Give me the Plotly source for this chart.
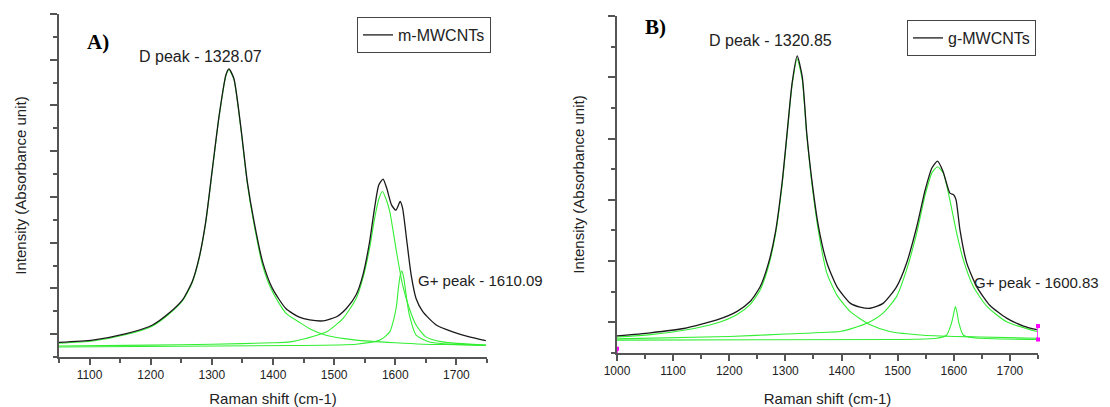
import plotly.graph_objects as go

# ---- panel A: m-MWCNTs (Raman shift, intensity a.u.) ----
a_tot_x = [1050, 1105, 1160, 1203, 1230, 1252, 1268, 1279, 1290, 1301, 1312, 1323, 1328, 1336, 1347,
           1358, 1369, 1383, 1399, 1421, 1443, 1460, 1482, 1504, 1520, 1536, 1547, 1558, 1566, 1573,
           1580, 1586, 1594, 1601, 1608, 1612, 1619, 1626, 1634, 1645, 1667, 1694, 1721, 1748]
a_tot_y = [0.32, 0.37, 0.51, 0.70, 0.96, 1.25, 1.65, 2.16, 2.96, 4.13, 5.29, 6.17, 6.30, 6.09, 5.07,
           3.83, 2.96, 2.08, 1.50, 1.06, 0.87, 0.81, 0.79, 0.88, 1.06, 1.36, 1.79, 2.52, 3.25, 3.76,
           3.89, 3.69, 3.32, 3.21, 3.40, 3.25, 2.52, 1.79, 1.28, 0.99, 0.70, 0.55, 0.44, 0.36]

a_d_x = [1050, 1105, 1160, 1203, 1230, 1252, 1268, 1279, 1290, 1301, 1312, 1323, 1328, 1336, 1347,
         1358, 1369, 1383, 1399, 1421, 1443, 1460, 1488, 1536, 1600, 1645, 1700, 1748]
a_d_y = [0.30, 0.35, 0.49, 0.68, 0.94, 1.23, 1.63, 2.14, 2.94, 4.11, 5.27, 6.15, 6.28, 6.07, 5.04,
         3.79, 2.90, 2.00, 1.43, 0.96, 0.76, 0.62, 0.47, 0.37, 0.31, 0.28, 0.27, 0.26]

a_g_x = [1050, 1200, 1300, 1400, 1428, 1455, 1488, 1515, 1536, 1547, 1558, 1566, 1573, 1579, 1585,
         1591, 1602, 1612, 1623, 1634, 1650, 1677, 1748]
a_g_y = [0.24, 0.26, 0.28, 0.31, 0.33, 0.41, 0.55, 0.85, 1.28, 1.72, 2.38, 3.02, 3.45, 3.62, 3.45,
         3.18, 2.30, 1.57, 1.06, 0.70, 0.44, 0.33, 0.26]

a_gp_x = [1050, 1428, 1536, 1575, 1591, 1598, 1602, 1605, 1608, 1611, 1614, 1617, 1620, 1623, 1634, 1656, 1748]
a_gp_y = [0.22, 0.25, 0.28, 0.37, 0.55, 0.85, 1.12, 1.50, 1.78, 1.88, 1.72, 1.43, 1.15, 0.92, 0.48, 0.33, 0.25]

# ---- panel B: g-MWCNTs ----
b_tot_x = [1000, 1059, 1119, 1178, 1214, 1237, 1255, 1270, 1282, 1294, 1303, 1312, 1321, 1330, 1338,
           1347, 1359, 1374, 1392, 1416, 1433, 1451, 1474, 1498, 1516, 1534, 1549, 1561, 1571, 1581,
           1593, 1600, 1604, 1611, 1623, 1641, 1664, 1694, 1724, 1748]
b_tot_y = [0.28, 0.33, 0.40, 0.54, 0.68, 0.84, 1.08, 1.47, 1.96, 2.77, 3.59, 4.41, 4.85, 4.51, 3.59,
           2.83, 2.06, 1.47, 1.08, 0.81, 0.75, 0.73, 0.81, 1.08, 1.47, 2.06, 2.66, 3.02, 3.13, 2.96,
           2.61, 2.58, 2.50, 2.01, 1.47, 1.08, 0.78, 0.57, 0.44, 0.38]

b_d_x = [1000, 1059, 1119, 1178, 1214, 1237, 1255, 1270, 1282, 1294, 1303, 1312, 1321, 1330, 1338,
         1347, 1359, 1374, 1392, 1416, 1433, 1451, 1486, 1546, 1650, 1748]
b_d_y = [0.26, 0.30, 0.37, 0.49, 0.63, 0.79, 1.03, 1.42, 1.92, 2.73, 3.56, 4.38, 4.80, 4.46, 3.55,
         2.78, 1.98, 1.30, 0.94, 0.67, 0.56, 0.46, 0.35, 0.29, 0.26, 0.24]

b_g_x = [1000, 1200, 1300, 1397, 1415, 1451, 1474, 1498, 1516, 1534, 1549, 1561, 1571, 1581, 1593,
         1605, 1617, 1635, 1659, 1694, 1748]
b_g_y = [0.23, 0.27, 0.31, 0.35, 0.39, 0.51, 0.65, 0.92, 1.36, 1.96, 2.58, 2.94, 3.04, 2.94, 2.50,
         1.96, 1.52, 1.08, 0.76, 0.51, 0.35]

b_gp_x = [1000, 1500, 1569, 1587, 1596, 1600, 1603, 1606, 1609, 1617, 1635, 1748]
b_gp_y = [0.21, 0.22, 0.24, 0.29, 0.49, 0.65, 0.76, 0.65, 0.49, 0.29, 0.25, 0.22]

# data-reader marks left by the original software (magenta)
b_mark_x = [[1000, 1000], [1750, 1750]]
b_mark_y = [[0.07, -0.10], [0.44, 0.22]]

BLACK = '#1a1a1a'
GREEN = '#33ee33'
AXC = '#555555'
FONT = 'Liberation Sans, Arial, sans-serif'

fig = go.Figure()


def add_panel(xa, ya, tot_x, tot_y, comps, name, legend):
    for cx, cy in comps:
        fig.add_trace(go.Scatter(x=cx, y=cy, mode='lines', xaxis=xa, yaxis=ya,
                                 line=dict(color=GREEN, width=1.1, shape='spline', smoothing=0.6),
                                 showlegend=False, hoverinfo='skip'))
    fig.add_trace(go.Scatter(x=tot_x, y=tot_y, mode='lines', xaxis=xa, yaxis=ya, name=name,
                             legend=legend, line=dict(color=BLACK, width=1.3, shape='spline', smoothing=0.6)))


add_panel('x', 'y', a_tot_x, a_tot_y, [(a_d_x, a_d_y), (a_g_x, a_g_y), (a_gp_x, a_gp_y)], 'm-MWCNTs', 'legend')
add_panel('x2', 'y2', b_tot_x, b_tot_y, [(b_d_x, b_d_y), (b_g_x, b_g_y), (b_gp_x, b_gp_y)], 'g-MWCNTs', 'legend2')

for mx, my in zip(b_mark_x, b_mark_y):
    fig.add_trace(go.Scatter(x=mx, y=my, mode='lines+markers', xaxis='x2', yaxis='y2', cliponaxis=False,
                             line=dict(color='#ff00ff', width=1.5),
                             marker=dict(color='#ff00ff', size=4, symbol='square'),
                             showlegend=False, hoverinfo='skip'))

# the page body keeps an 8px margin, so the figure sits at (8, 8) in the window
OFF = 8
W, H = 1110 - OFF, 407 - OFF


def px(x):
    return (x - OFF) / W


def py(y):
    return 1 - (y - OFF) / H


xcommon = dict(showline=True, linecolor=AXC, linewidth=2, ticks='outside', tickcolor=AXC, ticklen=6,
               tickwidth=1.5, dtick=100, tick0=1000, showgrid=False, zeroline=False,
               tickfont=dict(family=FONT, size=12, color='#222'),
               minor=dict(ticks='outside', ticklen=4, dtick=50, tickcolor=AXC, tickwidth=1.5),
               title=dict(text='Raman shift (cm-1)', font=dict(family=FONT, size=15, color='#222'), standoff=17),
               automargin=False)
ycommon = dict(showline=True, linecolor=AXC, linewidth=2, ticks='outside', tickcolor=AXC, ticklen=7,
               tickwidth=1.5, dtick=1, tick0=0.5, showticklabels=False, showgrid=False, zeroline=False,
               minor=dict(ticks='outside', ticklen=4, dtick=0.5, tick0=0, tickcolor=AXC, tickwidth=1.5),
               title=dict(text='Intensity (Absorbance unit)', font=dict(family=FONT, size=15, color='#222'),
                          standoff=20),
               automargin=False)

fig.update_layout(
    width=W, height=H,
    margin=dict(l=0, r=0, t=0, b=0),
    paper_bgcolor='white', plot_bgcolor='white',
    font=dict(family=FONT, color='#222'),
    xaxis=dict(xcommon, domain=[px(59), px(487)], range=[1050, 1750], anchor='y'),
    yaxis=dict(ycommon, domain=[py(357), py(14)], range=[0, 7.5], anchor='x'),
    xaxis2=dict(xcommon, domain=[px(617), px(1038)], range=[1000, 1750], anchor='y2'),
    yaxis2=dict(ycommon, domain=[py(353), py(16)], range=[0, 5.5], anchor='x2'),
    legend=dict(x=px(357), y=py(17), xanchor='left', yanchor='top', bgcolor='white',
                bordercolor='#444', borderwidth=1, font=dict(family=FONT, size=16, color='#222'),
                itemwidth=30, tracegroupgap=0),
    legend2=dict(x=px(907), y=py(20), xanchor='left', yanchor='top', bgcolor='white',
                 bordercolor='#444', borderwidth=1, font=dict(family=FONT, size=16, color='#222'),
                 itemwidth=30, tracegroupgap=0),
    showlegend=True,
)

ann = [
    ('A)', 98, 42, 'center', dict(family='Liberation Serif, serif', size=21, color='black'), True),
    ('D peak - 1328.07', 200, 56, 'center', dict(family=FONT, size=16, color='#222'), False),
    ('G+ peak - 1610.09', 416, 280, 'left', dict(family=FONT, size=15, color='#222'), False),
    ('B)', 655, 27, 'center', dict(family='Liberation Serif, serif', size=21, color='black'), True),
    ('D peak - 1320.85', 770, 40, 'center', dict(family=FONT, size=16, color='#222'), False),
    ('G+ peak - 1600.83', 972, 282, 'left', dict(family=FONT, size=15, color='#222'), False),
]
for text, x, y, anc, f, bold in ann:
    fig.add_annotation(text=f'<b>{text}</b>' if bold else text, x=px(x), y=py(y), xref='paper', yref='paper',
                       xanchor=anc, yanchor='middle', showarrow=False, font=f)

fig.write_html("out.html")
